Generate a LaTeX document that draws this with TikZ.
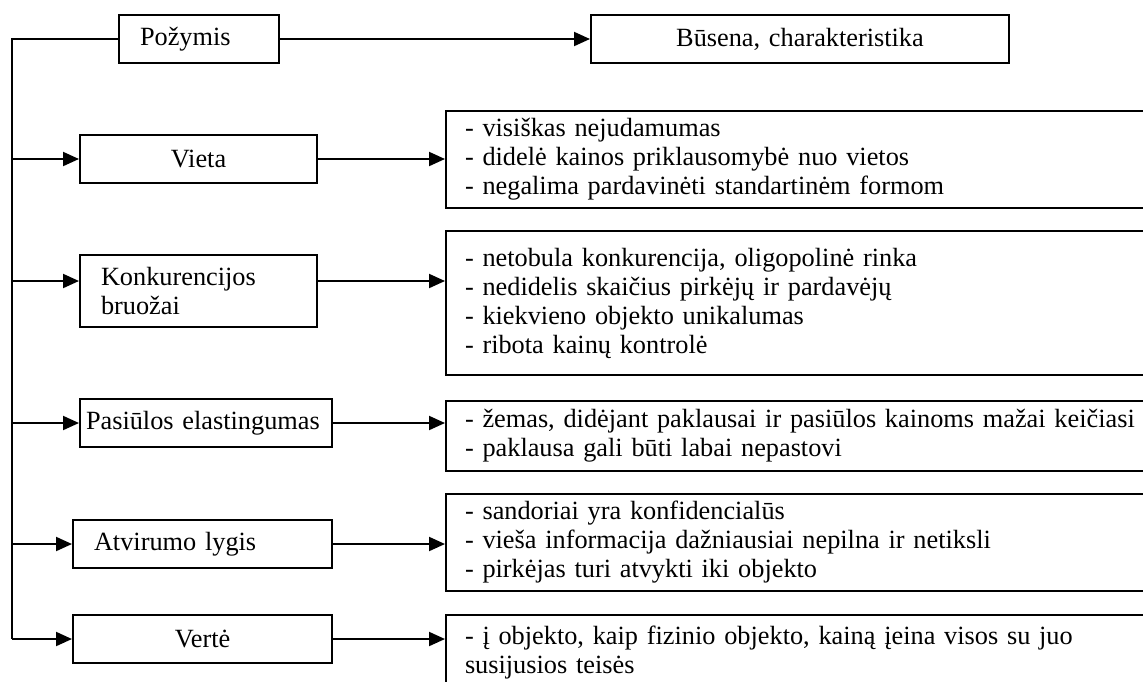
\documentclass[tikz,border=0pt]{standalone}
\usepackage{fontspec}
\setmainfont{Liberation Serif}
\usetikzlibrary{arrows.meta}

\begin{document}
\begin{tikzpicture}[x=0.5pt,y=-0.5pt,
  box/.style={draw,line width=1pt,inner ysep=0pt,anchor=north west,
    font=\fontsize{13.15}{14.5}\selectfont},
  rbox/.style={box,text width=358.5pt,inner xsep=9.5pt,align=left},
  arr/.style={line width=1pt,-{Triangle[length=8pt,width=7pt]}}]
\useasboundingbox (0,0) rectangle (1143,681);
\clip (0,0) rectangle (1143,681);
% header
\node (pozymis) at (118,14) [box,minimum height=24pt,text width=59pt,inner xsep=10.5pt,align=left]{Požymis};
\node (busena) at (590,14) [box,minimum height=24pt,text width=209pt,inner xsep=0pt,align=center]{Būsena, charakteristika};
% left column
\node (vieta) at (79,134) [box,minimum height=24pt,text width=118.5pt,inner xsep=0pt,align=center]{Vieta};
\node (konk) at (79,254) [box,minimum height=36pt,text width=97.5pt,inner xsep=10.5pt,align=left]{Konkurencijos\\bruožai};
\node (pasiulos) at (79,398) [box,minimum height=24pt,text width=120pt,inner xsep=3pt,align=left]{Pasiūlos elastingumas};
\node (atvirumas) at (72,519) [box,minimum height=24pt,text width=108.5pt,inner xsep=10.5pt,align=left]{Atvirumo lygis};
\node (verte) at (72,614) [box,minimum height=24pt,text width=129.5pt,inner xsep=0pt,align=center]{Vertė};
% right column
\node (vieta-r) at (445,110) [rbox,minimum height=48.5pt]{- visiškas nejudamumas\\- didelė kainos priklausomybė nuo vietos\\- negalima pardavinėti standartinėm formom};
\node (konk-r) at (445,230) [rbox,minimum height=72pt]{- netobula konkurencija, oligopolinė rinka\\- nedidelis skaičius pirkėjų ir pardavėjų\\- kiekvieno objekto unikalumas\\- ribota kainų kontrolė};
\node (pasiulos-r) at (445,400) [rbox,minimum height=35pt]{- žemas, didėjant paklausai ir pasiūlos kainoms mažai keičiasi\\- paklausa gali būti labai nepastovi};
\node (atvirumas-r) at (445,493) [rbox,minimum height=48.5pt]{- sandoriai yra konfidencialūs\\- vieša informacija dažniausiai nepilna ir netiksli\\- pirkėjas turi atvykti iki objekto};
\node (verte-r) at (445,614) [rbox,minimum height=37.5pt]{- į objekto, kaip fizinio objekto, kainą įeina visos su juo\\susijusios teisės};
% connectors
\coordinate (spine) at (12,38);
\coordinate (konkin) at ([yshift=5pt]konk.west);
\draw[line width=1pt] (pozymis.west) -| (spine |- verte.west);
\draw[arr] (pozymis.east) -- (busena.west);
\foreach \n in {vieta,pasiulos,atvirumas,verte}{
\draw[arr] (spine |- \n.west) -- (\n.west);
\draw[arr] (\n.east) -- (\n.east -| \n-r.west);}
\draw[arr] (spine |- konkin) -- (konkin);
\draw[arr] (konkin -| konk.east) -- (konkin -| konk-r.west);
\end{tikzpicture}
\end{document}
